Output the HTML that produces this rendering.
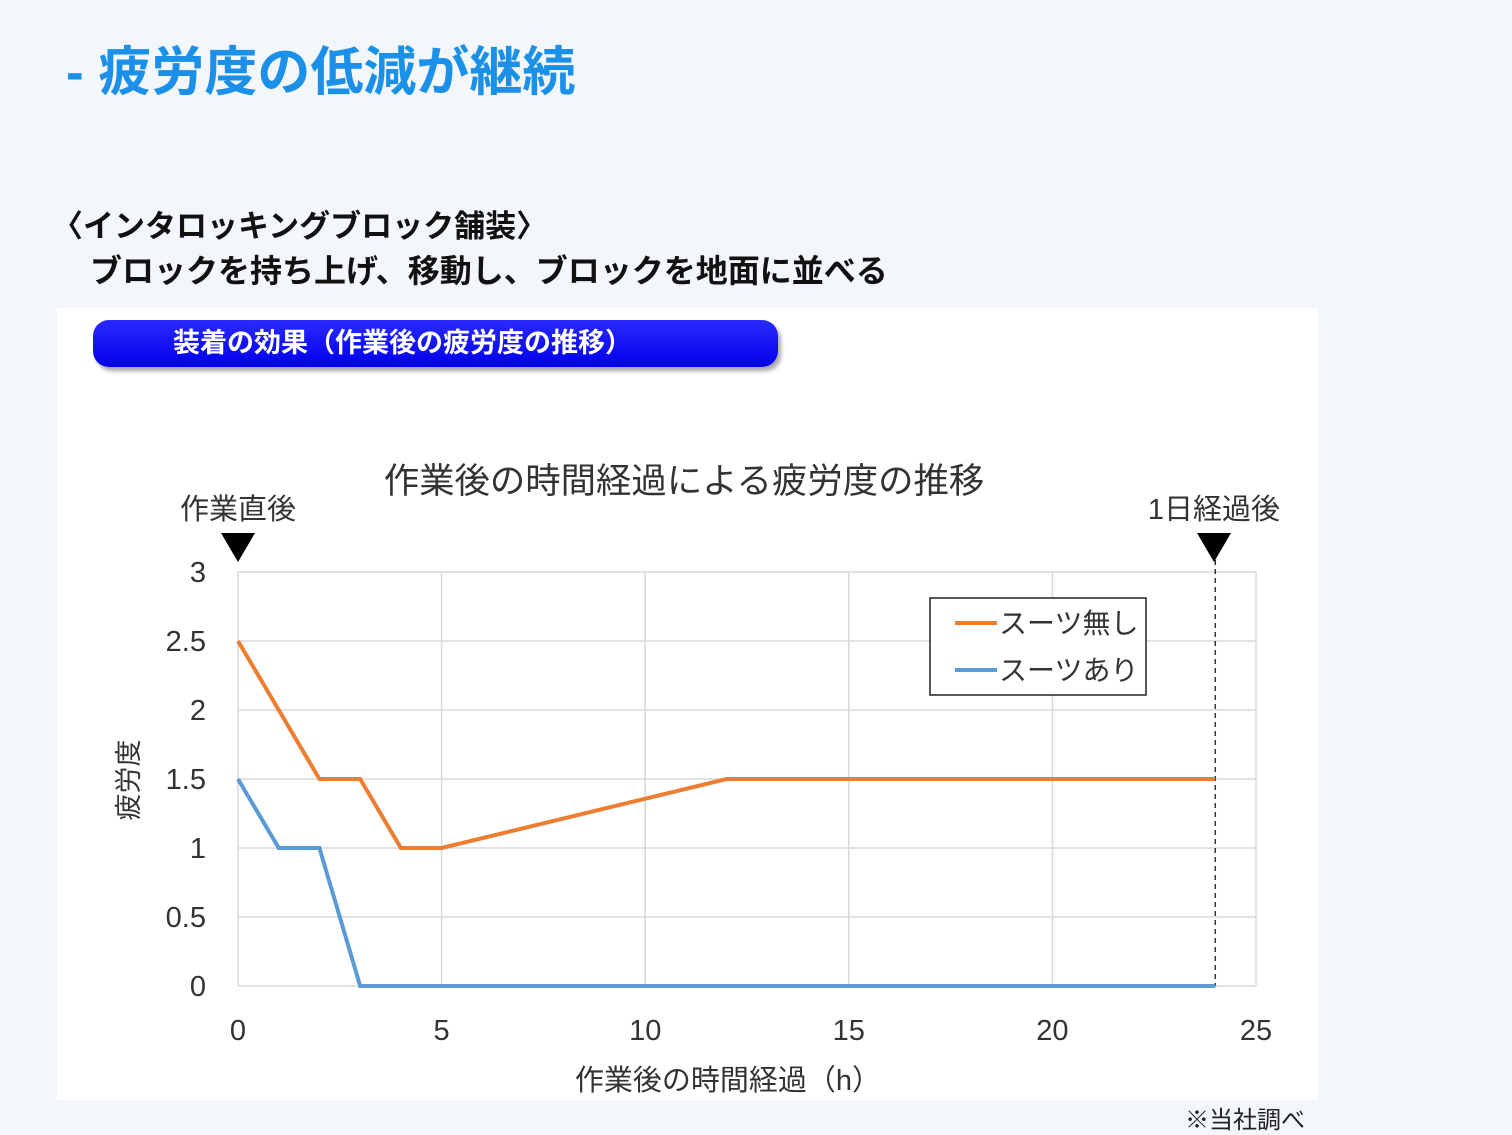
<!DOCTYPE html>
<html><head><meta charset="utf-8"><style>
body{margin:0;width:1512px;height:1134px;background:#f3f6fb;position:relative;overflow:hidden;font-family:"Liberation Sans","Noto Sans CJK JP",sans-serif}
.a{position:absolute;white-space:nowrap}
</style></head><body>
<div class="a" style="left:66px;top:30px;font-size:53px;font-weight:bold;color:#1a90e8">- 疲労度の低減が継続</div>
<div class="a" style="left:52px;top:201px;font-size:31px;font-weight:bold;color:#111">〈インタロッキングブロック舗装〉</div>
<div class="a" style="left:90px;top:246px;font-size:32px;font-weight:bold;color:#111">ブロックを持ち上げ、移動し、ブロックを地面に並べる</div>
<div class="a" style="left:57px;top:308px;width:1261px;height:792px;background:#fff"></div>
<div class="a" style="left:93px;top:320px;width:685px;height:47px;border-radius:16px;background:linear-gradient(#2a2aff,#0000e8);box-shadow:3px 4px 4px rgba(0,0,0,0.35);color:#fff;font-size:27px;font-weight:bold;line-height:47px;text-indent:80px">装着の効果（作業後の疲労度の推移）</div>
<div class="a" style="left:1185px;top:1100px;font-size:24px;color:#222">※当社調べ</div>
<svg class="a" style="left:0;top:0" width="1512" height="1134" font-family="Liberation Sans, Noto Sans CJK JP, sans-serif">
<g id="grid"></g><g id="lines"></g><g id="ticks"></g>
<text x="684" y="493" font-size="35.4" text-anchor="middle" fill="#333">作業後の時間経過による疲労度の推移</text>
<text x="728" y="1090" font-size="29" text-anchor="middle" fill="#333">作業後の時間経過（h）</text>
<text transform="translate(138,780) rotate(-90)" font-size="27" text-anchor="middle" fill="#333">疲労度</text>
<text x="238" y="519" font-size="29" text-anchor="middle" fill="#333">作業直後</text>
<text x="1214" y="519" font-size="29" text-anchor="middle" fill="#333">1日経過後</text>
<polygon points="221,533 255,533 238,562" fill="#000"/>
<polygon points="1197,533 1231,533 1214,562" fill="#000"/>
<g>
<rect x="930" y="598" width="216" height="97" fill="#fff" stroke="#222" stroke-width="1.5"/>
<line x1="955" y1="623" x2="997" y2="623" stroke="#ed7d31" stroke-width="4"/>
<text x="999" y="633" font-size="28" fill="#333">スーツ無し</text>
<line x1="955" y1="670" x2="997" y2="670" stroke="#5b9bd5" stroke-width="4"/>
<text x="999" y="680" font-size="28" fill="#333">スーツあり</text>
</g>
</svg>
<script>
const xTicks=[0,5,10,15,20,25];
const yTicks=[0,0.5,1,1.5,2,2.5,3];
const yTickLabels=["0","0.5","1","1.5","2","2.5","3"];
const noSuitX=[0,2,3,4,5,12,24];
const noSuitY=[2.5,1.5,1.5,1,1,1.5,1.5];
const suitX=[0,1,2,3,24];
const suitY=[1.5,1,1,0,0];
const markerX=24;
const X=v=>238+v*(1256-238)/25, Y=v=>986-v*(986-572)/3;
const ns="http://www.w3.org/2000/svg";
function mk(p,t,a){const e=document.createElementNS(ns,t);for(const k in a)e.setAttribute(k,a[k]);document.getElementById(p).appendChild(e);return e;}
xTicks.forEach(v=>{const l=mk('grid','line',{x1:X(v),x2:X(v),y1:Y(3),y2:Y(0),stroke:'#d9d9d9','stroke-width':1.5});


const t=mk('ticks','text',{x:X(v),y:1040,'font-size':29,'text-anchor':'middle',fill:'#333'});t.textContent=v;

});
yTicks.forEach((v,i)=>{const l=mk('grid','line',{x1:X(0),x2:X(25),y1:Y(v),y2:Y(v),stroke:'#d9d9d9','stroke-width':1.5});


const t=mk('ticks','text',{x:206,y:Y(v)+10,'font-size':29,'text-anchor':'end',fill:'#333'});t.textContent=yTickLabels[i];

});
const d=mk('lines','line',{x1:X(markerX),x2:X(markerX),y1:560,y2:Y(0),stroke:'#333','stroke-width':1.5,'stroke-dasharray':'5,4'});


const p1=mk('lines','polyline',{points:noSuitX.map((x,i)=>X(x)+','+Y(noSuitY[i])).join(' '),fill:'none',stroke:'#ed7d31','stroke-width':4});


const p2=mk('lines','polyline',{points:suitX.map((x,i)=>X(x)+','+Y(suitY[i])).join(' '),fill:'none',stroke:'#5b9bd5','stroke-width':4});


</script>
</body></html>
